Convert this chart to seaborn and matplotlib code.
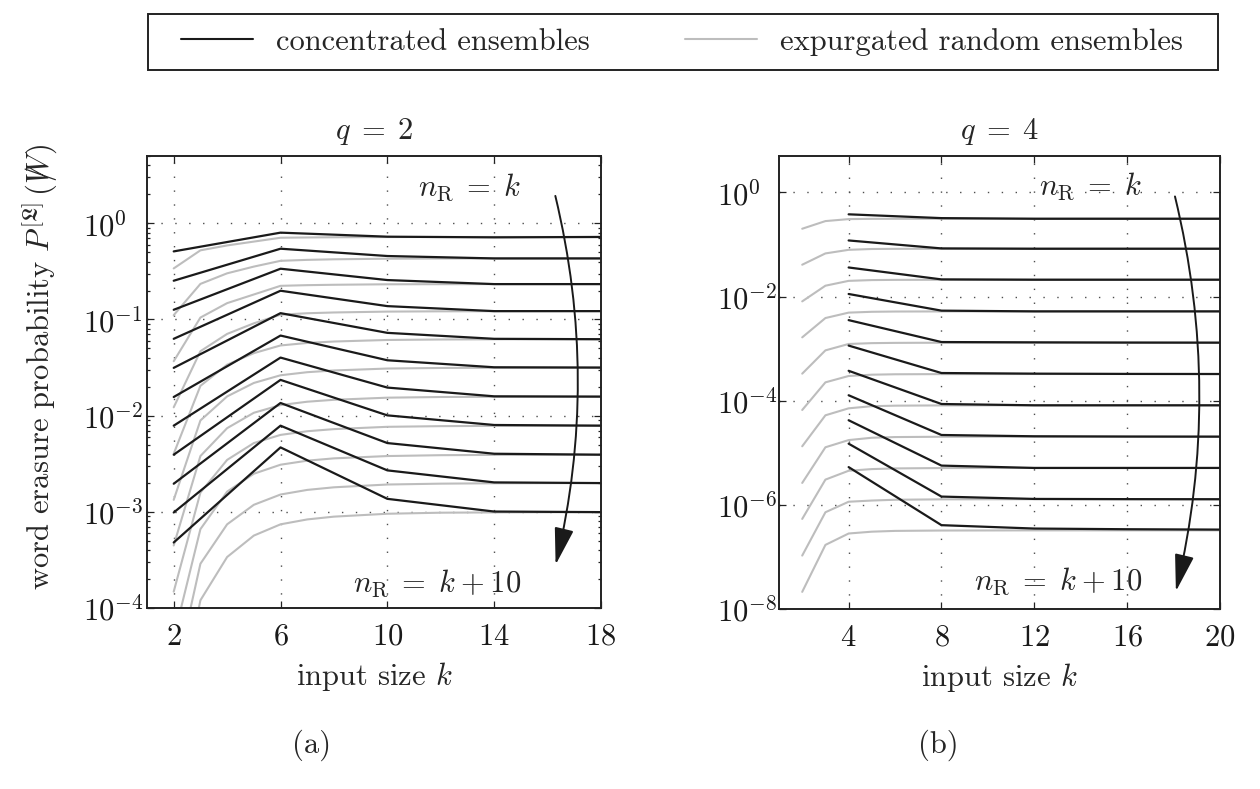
import numpy as np
import pandas as pd
import matplotlib
matplotlib.use("Agg")
import matplotlib.pyplot as plt
import seaborn as sns
from matplotlib.lines import Line2D
from matplotlib.patches import Rectangle
from matplotlib.ticker import FixedLocator, LogLocator, NullLocator, NullFormatter
from matplotlib.mathtext import MathTextParser

# ---------------------------------------------------------------------------
# Data. Values are log10 of the word erasure probability,
# one row per input size k, one entry per curve (n_R = k, k+1, ..., k+10).
# ---------------------------------------------------------------------------

# (a) q = 2
Q2_GRAY_K = [2, 3, 4, 5, 6, 7, 8, 10, 12, 14, 18]
Q2_GRAY_LOGP = [
    [-0.469, -0.955, -1.434, -1.913, -2.396, -2.875, -3.350, -3.830, -4.310, -4.790, -5.270],
    [-0.281, -0.630, -0.980, -1.330, -1.690, -2.050, -2.420, -2.800, -3.180, -3.540, -3.920],
    [-0.230, -0.520, -0.830, -1.150, -1.470, -1.800, -2.130, -2.460, -2.790, -3.130, -3.470],
    [-0.190, -0.450, -0.740, -1.040, -1.350, -1.660, -1.970, -2.285, -2.604, -2.927, -3.247],
    [-0.150, -0.390, -0.650, -0.950, -1.270, -1.580, -1.890, -2.200, -2.510, -2.820, -3.130],
    [-0.147, -0.380, -0.643, -0.935, -1.244, -1.548, -1.855, -2.162, -2.468, -2.772, -3.079],
    [-0.145, -0.374, -0.639, -0.927, -1.229, -1.530, -1.835, -2.140, -2.444, -2.745, -3.050],
    [-0.143, -0.368, -0.634, -0.918, -1.213, -1.510, -1.813, -2.116, -2.420, -2.716, -3.020],
    [-0.142, -0.366, -0.633, -0.915, -1.208, -1.504, -1.806, -2.109, -2.411, -2.707, -3.009],
    [-0.142, -0.365, -0.632, -0.914, -1.206, -1.502, -1.804, -2.106, -2.408, -2.703, -3.006],
    [-0.142, -0.365, -0.632, -0.913, -1.205, -1.500, -1.802, -2.104, -2.406, -2.701, -3.003],
]
Q2_BLACK_K = [2, 6, 10, 14, 18]
Q2_BLACK_LOGP = [
    [-0.292, -0.597, -0.899, -1.201, -1.503, -1.806, -2.104, -2.406, -2.708, -3.007, -3.319],
    [-0.097, -0.264, -0.472, -0.701, -0.934, -1.167, -1.396, -1.628, -1.868, -2.104, -2.330],
    [-0.139, -0.340, -0.590, -0.861, -1.139, -1.424, -1.708, -1.997, -2.285, -2.569, -2.865],
    [-0.146, -0.365, -0.632, -0.913, -1.201, -1.497, -1.799, -2.097, -2.396, -2.694, -2.997],
    [-0.142, -0.365, -0.632, -0.913, -1.205, -1.500, -1.802, -2.104, -2.406, -2.701, -3.003],
]

# (b) q = 4
Q4_GRAY_K = [2, 3, 4, 5, 6, 8, 12, 20]
Q4_GRAY_LOGP = [
    [-0.697, -1.388, -2.092, -2.783, -3.480, -4.178, -4.875, -5.579, -6.270, -6.974, -7.671],
    [-0.550, -1.171, -1.791, -2.412, -3.033, -3.647, -4.280, -4.894, -5.515, -6.142, -6.769],
    [-0.512, -1.102, -1.698, -2.308, -2.910, -3.525, -4.146, -4.756, -5.345, -5.940, -6.550],
    [-0.507, -1.086, -1.683, -2.292, -2.894, -3.500, -4.105, -4.711, -5.313, -5.917, -6.515],
    [-0.506, -1.083, -1.679, -2.287, -2.889, -3.492, -4.095, -4.698, -5.300, -5.902, -6.500],
    [-0.505, -1.081, -1.677, -2.285, -2.886, -3.489, -4.090, -4.692, -5.293, -5.894, -6.493],
    [-0.505, -1.081, -1.676, -2.284, -2.885, -3.487, -4.088, -4.690, -5.291, -5.892, -6.490],
    [-0.505, -1.081, -1.676, -2.284, -2.885, -3.487, -4.088, -4.690, -5.291, -5.892, -6.490],
]
Q4_BLACK_K = [4, 8, 12, 16, 20]
Q4_BLACK_LOGP = [
    [-0.420, -0.922, -1.441, -1.950, -2.452, -2.941, -3.425, -3.895, -4.375, -4.825, -5.275],
    [-0.493, -1.075, -1.670, -2.270, -2.873, -3.468, -4.063, -4.658, -5.246, -5.841, -6.390],
    [-0.505, -1.081, -1.676, -2.284, -2.879, -3.480, -4.088, -4.683, -5.291, -5.886, -6.455],
    [-0.505, -1.081, -1.676, -2.284, -2.883, -3.485, -4.088, -4.688, -5.291, -5.890, -6.468],
    [-0.505, -1.081, -1.676, -2.284, -2.885, -3.487, -4.088, -4.690, -5.291, -5.892, -6.475],
]

Q2_XTICKS = [2, 6, 10, 14, 18]
Q4_XTICKS = [4, 8, 12, 16, 20]
Q2_YTICKS = [1e-4, 1e-3, 1e-2, 1e-1, 1e0]
Q4_YTICKS = [1e-8, 1e-6, 1e-4, 1e-2, 1e0]

LEGEND_LABELS = ["concentrated ensembles", "expurgated random ensembles"]

GRAY = "#bdbdbd"
FS = 22
W, H = 1260, 789


def to_frame(ks, rows):
    recs = []
    for k, row in zip(ks, rows):
        for m, lp in enumerate(row):
            recs.append({"k": k, "P": 10.0 ** lp, "offset": m})
    return pd.DataFrame(recs)


def pick_ylabel():
    # crossed-out W: overlay a slash on the W with negative spacing
    candidates = [
        r"word erasure probability $P^{[\mathfrak{L}]}\,(W\!\!\!\!\!\!/\;\,)$",
        r"word erasure probability $P^{[\mathfrak{L}]}(W)$",
    ]
    for s in candidates:
        try:
            MathTextParser("path").parse(s[s.index("$"):])
            return s
        except Exception:
            continue
    return "word erasure probability"


sns.set_theme(style="ticks")
plt.rcParams.update({
    "font.family": ["cmr10", "DejaVu Serif"],
    "mathtext.fontset": "cm",
    "axes.formatter.use_mathtext": True,
    "axes.unicode_minus": True,
    "font.size": FS,
})

fig = plt.figure(figsize=(W / 100, H / 100), dpi=100)
ax1 = fig.add_axes([147 / W, 1 - 608 / H, 454 / W, 452 / H])
ax2 = fig.add_axes([779 / W, 1 - 609 / H, 441 / W, 453 / H])


def draw_panel(ax, gk, grows, bk, brows):
    sns.lineplot(data=to_frame(gk, grows), x="k", y="P", units="offset",
                 estimator=None, color=GRAY, linewidth=1.5, ax=ax, legend=False)
    sns.lineplot(data=to_frame(bk, brows), x="k", y="P", units="offset",
                 estimator=None, color="#1a1a1a", linewidth=1.6, ax=ax, legend=False)
    ax.set_yscale("log")
    ax.grid(True, which="major", linestyle=(0, (1, 9)), linewidth=1.0, color="0.3")
    ax.set_axisbelow(True)
    ax.tick_params(which="both", direction="in", top=True, right=True,
                   width=0.9, colors="#222222", labelsize=FS, labelcolor="#1a1a1a")
    ax.tick_params(which="major", length=5)
    ax.tick_params(which="minor", length=2.5)
    ax.tick_params(axis="x", pad=11)
    for sp in ax.spines.values():
        sp.set_linewidth(1.4)
        sp.set_color("#222222")
    ax.set_xlabel(r"input size $k$", fontsize=FS)
    ax.xaxis.set_label_coords(0.5, -0.115)
    ax.set_ylabel("")


# ---- (a) q = 2 ----
draw_panel(ax1, Q2_GRAY_K, Q2_GRAY_LOGP, Q2_BLACK_K, Q2_BLACK_LOGP)
ax1.set_xlim(1, 18)
ax1.set_ylim(1e-4, 10 ** 0.7)
ax1.set_xticks(Q2_XTICKS)
ax1.yaxis.set_major_locator(FixedLocator(Q2_YTICKS))
ax1.yaxis.set_minor_locator(LogLocator(base=10, subs=np.arange(2, 10)))
ax1.yaxis.set_minor_formatter(NullFormatter())
ax1.set_yticklabels([r"$10^{-4}$", r"$10^{-3}$", r"$10^{-2}$", r"$10^{-1}$", r"$10^{0}$"])
ax1.tick_params(axis="y", pad=46)
ax1.set_title(r"$q\;=\;2$", fontsize=FS, y=1.055, va="center", pad=0)
ax1.set_ylabel(pick_ylabel(), fontsize=FS)
ax1.yaxis.set_label_coords(-0.192, 0.534)

ax1.annotate("", xy=(16.3, 10 ** -3.55), xytext=(16.29, 10 ** 0.285),
             arrowprops=dict(arrowstyle="-|>,head_length=1.15,head_width=0.3",
                             connectionstyle="arc3,rad=-0.12", color="#1a1a1a",
                             lw=1.4, shrinkA=0, shrinkB=0, mutation_scale=20))
ax1.text(15.0, 10 ** 0.37, r"$n_{\mathrm{R}}\;=\;k$", ha="right", va="center", fontsize=FS)
ax1.text(15.0, 10 ** -3.74, r"$n_{\mathrm{R}}\;=\;k\:+\:10$", ha="right", va="center", fontsize=FS)

# ---- (b) q = 4 ----
draw_panel(ax2, Q4_GRAY_K, Q4_GRAY_LOGP, Q4_BLACK_K, Q4_BLACK_LOGP)
ax2.set_xlim(1, 20)
ax2.set_ylim(1e-8, 10 ** 0.7)
ax2.set_xticks(Q4_XTICKS)
ax2.yaxis.set_major_locator(FixedLocator(Q4_YTICKS))
ax2.yaxis.set_minor_locator(NullLocator())
ax2.set_yticklabels([r"$10^{-8}$", r"$10^{-6}$", r"$10^{-4}$", r"$10^{-2}$", r"$10^{0}$"])
ax2.tick_params(axis="y", pad=44.6)
ax2.set_title(r"$q\;=\;4$", fontsize=FS, y=1.055, va="center", pad=0)

ax2.annotate("", xy=(18.1, 10 ** -7.66), xytext=(18.06, 10 ** -0.077),
             arrowprops=dict(arrowstyle="-|>,head_length=1.15,head_width=0.3",
                             connectionstyle="arc3,rad=-0.12", color="#1a1a1a",
                             lw=1.4, shrinkA=0, shrinkB=0, mutation_scale=20))
ax2.text(16.64, 10 ** 0.115, r"$n_{\mathrm{R}}\;=\;k$", ha="right", va="center", fontsize=FS)
ax2.text(16.64, 10 ** -7.47, r"$n_{\mathrm{R}}\;=\;k\:+\:10$", ha="right", va="center", fontsize=FS)

# MATLAB-style tick labels: the "10" bases line up on the left
for ax in (ax1, ax2):
    for lbl in ax.get_yticklabels():
        lbl.set_horizontalalignment("left")

# ---- legend in a box above both panels ----
handles = [Line2D([], [], color="#1a1a1a", lw=1.5), Line2D([], [], color=GRAY, lw=1.5)]
fig.legend(handles, LEGEND_LABELS, loc="center left", bbox_to_anchor=(181 / W, 1 - 42 / H),
           ncol=2, frameon=False, fontsize=FS, handlelength=2.36, handletextpad=0.75,
           columnspacing=3.1, borderpad=0, borderaxespad=0)
fig.add_artist(Rectangle((148 / W, 1 - 70 / H), 1070 / W, 56 / H, transform=fig.transFigure,
                         fill=False, ec="#222222", lw=1.4))

fig.text(312 / W, 1 - 745 / H, "(a)", ha="center", va="center", fontsize=FS)
fig.text(938 / W, 1 - 745 / H, "(b)", ha="center", va="center", fontsize=FS)

fig.savefig("out.png", dpi=100)
